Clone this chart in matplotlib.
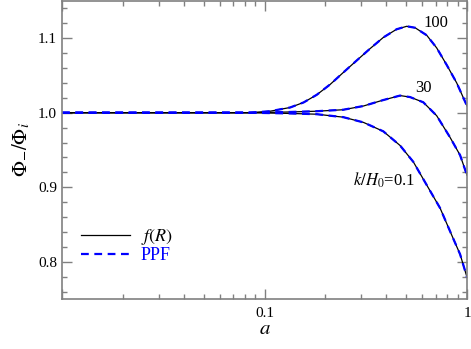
import matplotlib
matplotlib.use("Agg")
import matplotlib.pyplot as plt
from matplotlib.ticker import FixedLocator, MultipleLocator, LogLocator, NullFormatter

plt.rcParams["font.family"] = "serif"
plt.rcParams["font.serif"] = ["Liberation Serif", "DejaVu Serif"]
plt.rcParams["mathtext.fontset"] = "stix"

# Phi_-/Phi_i vs scale factor a
a_100 = [0.01, 0.03, 0.06, 0.0848, 0.1065, 0.1338, 0.156, 0.181, 0.211, 0.245,
         0.285, 0.332, 0.386, 0.449, 0.504, 0.554, 0.632, 0.708, 0.794, 0.889, 1.0]
phi_100 = [1.0, 1.0, 1.0, 1.0, 1.002, 1.007, 1.0138, 1.024, 1.038, 1.054,
           1.070, 1.086, 1.101, 1.112, 1.116, 1.114, 1.104, 1.087, 1.064, 1.040, 1.009]

a_30 = [0.01, 0.03, 0.06, 0.0848, 0.134, 0.181, 0.245, 0.308, 0.386, 0.467,
        0.523, 0.608, 0.708, 0.824, 0.924, 1.0]
phi_30 = [1.0, 1.0, 1.0, 1.0, 1.001, 1.002, 1.004, 1.009, 1.017, 1.023,
          1.021, 1.014, 0.996, 0.967, 0.943, 0.916]

a_01 = [0.01, 0.03, 0.06, 0.0848, 0.134, 0.181, 0.245, 0.308, 0.386, 0.467,
        0.543, 0.632, 0.736, 0.824, 0.924, 1.0]
phi_01 = [1.0, 1.0, 1.0, 1.0, 0.999, 0.998, 0.994, 0.987, 0.975, 0.956,
          0.934, 0.903, 0.872, 0.841, 0.810, 0.779]

curves = [(a_100, phi_100), (a_30, phi_30), (a_01, phi_01)]
labels = [("100", 0.703, 1.120), ("30", 0.606, 1.033),
          (r"$k/H_0$=0.1", 0.389, 0.909)]

fig = plt.figure(figsize=(4.71, 3.49), dpi=100)
ax = fig.add_axes([0.1316, 0.1433, 0.86, 0.854])

for i, (a, phi) in enumerate(curves):
    ax.plot(a, phi, color="black", lw=0.9,
            label=r"$f(R)$" if i == 0 else None)
for i, (a, phi) in enumerate(curves):
    ax.plot(a, phi, color="blue", lw=1.6, ls=(0, (3.5, 2.5)),
            label="PPF" if i == 0 else None)

for txt, xa, ya in labels:
    ax.text(xa, ya, txt, ha="center", va="center", fontsize=12)

ax.set_xscale("log")
ax.set_xlim(0.01, 1)
ax.set_ylim(0.75, 1.15)

ax.xaxis.set_major_locator(FixedLocator([0.01, 0.1, 1]))
ax.set_xticklabels(["", "0.1", "1"])
ax.xaxis.set_minor_locator(LogLocator(base=10, subs=range(2, 10)))
ax.xaxis.set_minor_formatter(NullFormatter())
ax.yaxis.set_minor_locator(MultipleLocator(0.02))
ax.set_yticks([0.8, 0.9, 1.0, 1.1])
ax.set_yticklabels(["0.8", "0.9", "1.0", "1.1"])

ax.tick_params(which="both", direction="in", top=True, right=True,
               color="#808080", labelsize=11, width=1.0)
ax.tick_params(which="major", length=7)
ax.tick_params(which="minor", length=3.5)
ax.tick_params(axis="x", pad=6)
for s in ax.spines.values():
    s.set_color("#808080")
    s.set_linewidth(1.2)

ax.set_xlabel(r"$a$", fontsize=15, labelpad=0)
ax.set_ylabel(r"$\Phi_{-}/\Phi_i$", fontsize=15, labelpad=4)

leg = ax.legend(loc="lower left", frameon=False, fontsize=13,
                handlelength=2.7, bbox_to_anchor=(0.03, 0.093),
                borderaxespad=0, handletextpad=0.6, labelspacing=0.0)
for t, c in zip(leg.get_texts(), ["black", "blue"]):
    t.set_color(c)

fig.savefig("out.png", dpi=100)
